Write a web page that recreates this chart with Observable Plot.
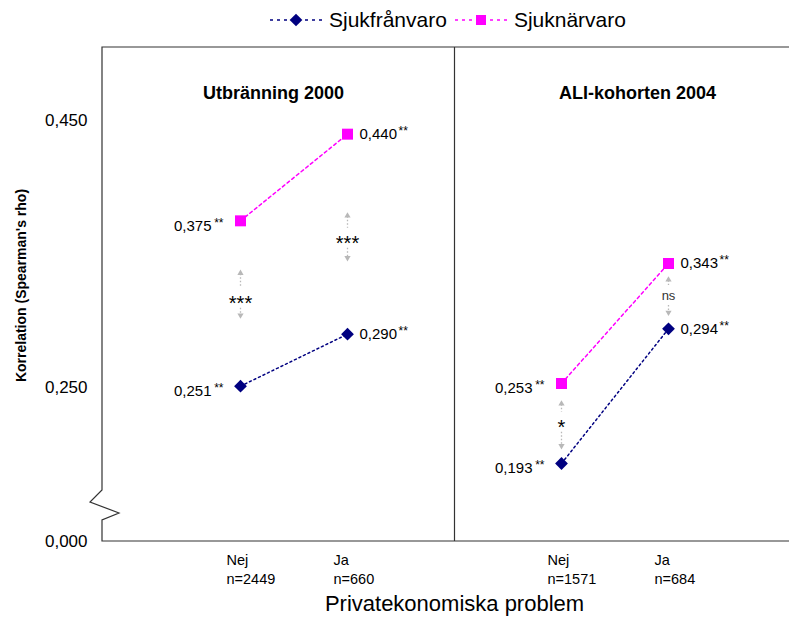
<!DOCTYPE html>
<html><head><meta charset="utf-8">
<script src="https://cdn.jsdelivr.net/npm/d3@7"></script>
<script src="https://cdn.jsdelivr.net/npm/@observablehq/plot@0.6"></script>
<style>
body{margin:0;background:#fff;font-family:"Liberation Sans",Arial,sans-serif;}
#wrap{position:relative;width:789px;height:617px;overflow:hidden;}
#legend{position:absolute;left:270px;top:0;height:40px;display:flex;align-items:center;font-size:21px;color:#000;white-space:nowrap;}
.item{display:flex;align-items:center;margin-right:8px}
.item svg{margin-right:7px}
#chart{position:absolute;left:0;top:40px}
</style></head><body>
<div id="wrap"><div id="legend"></div><div id="chart"></div></div>
<script>
// ---- data ----
const panels = ["Utbränning 2000", "ALI-kohorten 2004"];
const groups = ["Nej", "Ja"];
const nLabels = [["n=2449", "n=660"], ["n=1571", "n=684"]];
const seriesNames = ["Sjukfrånvaro", "Sjuknärvaro"];
const sjukfranvaro = [[0.251, 0.290], [0.193, 0.294]];
const sjuknarvaro = [[0.375, 0.440], [0.253, 0.343]];
const valueStars = [["**", "**"], ["**", "**"]];
const sigLabels = [["***", "***"], ["*", "ns"]];
const sigTop = [[0.338, 0.381], [0.240, 0.333]];
const sigMid = [[0.317, 0.362], [0.224, 0.319]];
const sigBottom = [[0.302, 0.345], [0.204, 0.304]];
const yTicks = [0, 0.25, 0.45];
const yBreak = 0.16;
const xLabel = "Privatekonomiska problem";
const yLabel = "Korrelation (Spearman's rho)";

const colors = ["#000080", "#FF00FF"];
const dashes = ["2,3", "3,3"];

// ---- derived tables ----
const key = (i, g) => `${i}|${g}`;
const xDomain = [key(0, "Nej"), key(0, "Ja"), "gap", key(1, "Nej"), key(1, "Ja")];
const tickLabel = {};
panels.forEach((p, i) => groups.forEach((g, j) => tickLabel[key(i, g)] = g + "\n" + nLabels[i][j]));

const rows = [];
panels.forEach((p, i) => groups.forEach((g, j) => {
  [sjukfranvaro, sjuknarvaro].forEach((arr, s) => rows.push({
    key: key(i, g), panel: i, j, s, series: seriesNames[s], value: arr[i][j], stars: valueStars[i][j]
  }));
}));
const sig = [];
panels.forEach((p, i) => groups.forEach((g, j) => sig.push({
  key: key(i, g), label: sigLabels[i][j], top: sigTop[i][j], mid: sigMid[i][j], bottom: sigBottom[i][j]
})));

const locale = d3.formatLocale({decimal: ",", thousands: "\u00a0", grouping: [3], currency: ["", ""]});
const fmt = locale.format(".3f");

// ---- legend ----
const legend = document.getElementById("legend");
seriesNames.forEach((name, s) => {
  const item = document.createElement("div");
  item.className = "item";
  const marker = s === 0
    ? `<rect x="21.5" y="5.5" width="9" height="9" fill="${colors[0]}" transform="rotate(45 26 10)"/>`
    : `<rect x="21" y="5" width="10" height="10" fill="${colors[1]}"/>`;
  item.innerHTML = `<svg width="52" height="20"><line x1="0" x2="52" y1="10" y2="10" stroke="${colors[s]}" stroke-width="1.6" stroke-dasharray="3,4"/>${marker}</svg><span>${name}</span>`;
  legend.appendChild(item);
});

// ---- frame with broken axis ----
function frameMark(index, scales, values, dims) {
  const {width, height, marginLeft, marginTop, marginBottom, marginRight} = dims;
  const L = marginLeft, T = marginTop, B = height - marginBottom, R = width - marginRight;
  const yb = scales.y(yBreak);
  const d = `M${R},${T}H${L}V${yb - 17}L${L - 12},${yb - 5}L${L + 17},${yb + 6}L${L},${yb + 13}V${B}H${R}`;
  const path = document.createElementNS("http://www.w3.org/2000/svg", "path");
  path.setAttribute("d", d);
  path.setAttribute("fill", "none");
  path.setAttribute("stroke", "#333");
  path.setAttribute("stroke-width", "1.2");
  return path;
}

const left = rows.filter(d => d.j === 0);
const right = rows.filter(d => d.j === 1);
const starSig = sig.filter(d => d.label !== "ns");
const nsSig = sig.filter(d => d.label === "ns");
const gray = "#b8b8b8";

const chart = Plot.plot({
  width: 789,
  height: 577,
  marginLeft: 102,
  marginRight: 0,
  marginTop: 7,
  marginBottom: 76,
  style: {fontFamily: "Liberation Sans, Arial, sans-serif", color: "#000", background: "#fff"},
  x: {type: "point", domain: xDomain, range: [240, 668], padding: 0, label: null},
  y: {type: "linear", domain: [0, yBreak, 0.505], range: [501, 467, 7], label: null},
  marks: [
    frameMark,
    Plot.ruleX(["gap"], {stroke: "#333", strokeWidth: 1.2}),
    ...panels.map((p, i) => Plot.text([p], {x: () => key(i, "Nej"), frameAnchor: "top", dy: 39, dx: [33, 76][i], fontSize: 18, fontWeight: "bold"})),
    // significance arrows
    Plot.ruleX(sig, {x: "key", y1: "top", y2: "mid", insetTop: 4, insetBottom: 10, stroke: gray, strokeWidth: 1.3, strokeDasharray: "1.5,2"}),
    Plot.ruleX(sig, {x: "key", y1: "mid", y2: "bottom", insetTop: 10, insetBottom: 4, stroke: gray, strokeWidth: 1.3, strokeDasharray: "1.5,2"}),
    Plot.dot(sig, {x: "key", y: "top", symbol: "triangle", r: 2.3, fill: gray, dy: 3}),
    Plot.dot(sig, {x: "key", y: "bottom", symbol: "triangle", r: 2.3, fill: gray, rotate: 180, dy: -3}),
    Plot.text(starSig, {x: "key", y: "mid", text: "label", fontSize: 20, dy: 5}),
    Plot.text(nsSig, {x: "key", y: "mid", text: "label", fontSize: 13, fill: "#333"}),
    // series
    ...[0, 1].map(s => Plot.line(rows.filter(d => d.s === s), {x: "key", y: "value", z: "panel", stroke: colors[s], strokeWidth: 1.5, strokeDasharray: dashes[s]})),
    Plot.dot(rows.filter(d => d.s === 0), {x: "key", y: "value", symbol: "square", rotate: 45, r: 5.1, fill: colors[0]}),
    Plot.dot(rows.filter(d => d.s === 1), {x: "key", y: "value", symbol: "square", r: 6.2, fill: colors[1]}),
    // value labels
    Plot.text(left, {x: "key", y: "value", text: d => fmt(d.value), textAnchor: "end", dx: -29, dy: 5, fontSize: 15}),
    Plot.text(left, {x: "key", y: "value", text: "stars", textAnchor: "end", dx: -17, dy: 2, fontSize: 12}),
    Plot.text(right, {x: "key", y: "value", text: d => fmt(d.value), textAnchor: "start", dx: 12, fontSize: 15}),
    Plot.text(right, {x: "key", y: "value", text: "stars", textAnchor: "start", dx: 51, dy: -3, fontSize: 12}),
    // axes
    Plot.axisY({ticks: yTicks, tickFormat: fmt, tickSize: 0, tickPadding: 15, fontSize: 17, label: null}),
    Plot.axisX({ticks: xDomain.filter(k => k !== "gap"), tickFormat: k => tickLabel[k], tickSize: 0, tickPadding: 10, fontSize: 14.5, lineHeight: 1.3, textAnchor: "start", dx: -14, label: null}),
    Plot.text([yLabel], {frameAnchor: "left", textAnchor: "middle", rotate: -90, dx: -81, dy: -9, fontWeight: "bold", fontSize: 14}),
    Plot.text([xLabel], {x: () => "gap", frameAnchor: "bottom", dy: 69, fontSize: 22})
  ]
});
document.getElementById("chart").appendChild(chart);
</script>
</body></html>
